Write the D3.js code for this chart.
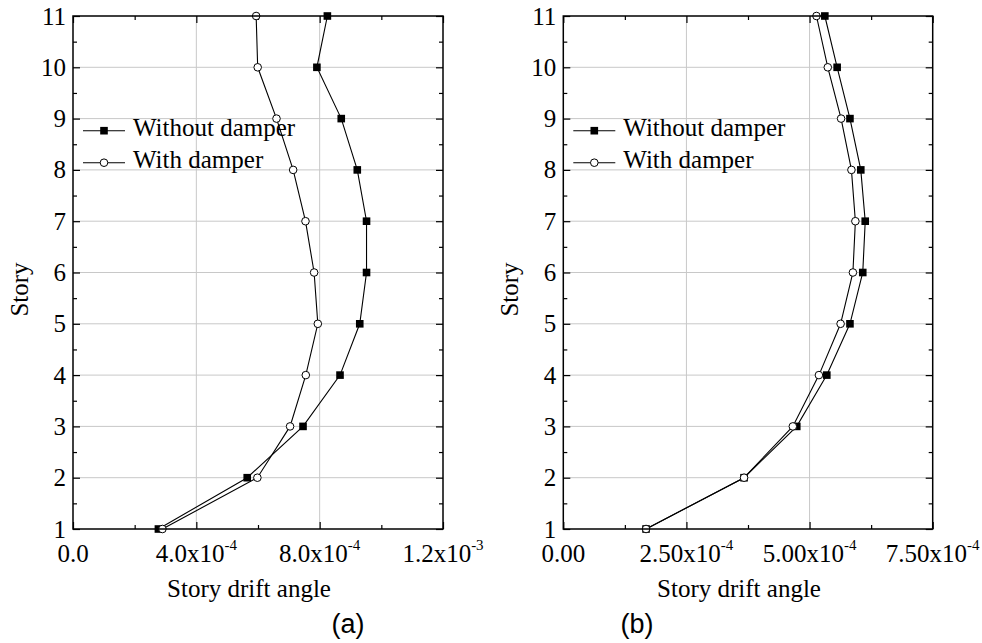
<!DOCTYPE html>
<html>
<head>
<meta charset="utf-8">
<script src="https://cdn.jsdelivr.net/npm/d3@7"></script>
<style>
  html, body { margin: 0; padding: 0; background: #fff; }
  svg { display: block; }
  text { font-family: "Liberation Serif", "Times New Roman", serif; fill: #000; }
  .panel-tag { font-family: "Liberation Sans", Arial, sans-serif; }
</style>
</head>
<body>
<svg id="chart" width="982" height="643"></svg>
<script>
// Story numbers (y axis)
const stories = [1, 2, 3, 4, 5, 6, 7, 8, 9, 10, 11];

// Panel (a): story drift angle
const driftAWithout = [2.77e-4, 5.65e-4, 7.46e-4, 8.66e-4, 9.30e-4, 9.52e-4, 9.52e-4, 9.22e-4, 8.70e-4, 7.91e-4, 8.25e-4];
const driftAWith    = [2.90e-4, 5.98e-4, 7.04e-4, 7.55e-4, 7.94e-4, 7.82e-4, 7.54e-4, 7.14e-4, 6.60e-4, 5.99e-4, 5.94e-4];

// Panel (b): story drift angle
const driftBWithout = [1.68e-4, 3.67e-4, 4.74e-4, 5.35e-4, 5.82e-4, 6.08e-4, 6.13e-4, 6.04e-4, 5.82e-4, 5.56e-4, 5.31e-4];
const driftBWith    = [1.68e-4, 3.67e-4, 4.66e-4, 5.19e-4, 5.63e-4, 5.88e-4, 5.93e-4, 5.85e-4, 5.64e-4, 5.37e-4, 5.14e-4];

// Axis ticks and their labels: [mantissa, exponent]
const xTicksA = [0, 4e-4, 8e-4, 1.2e-3];
const xTickLabelsA = [["0.0", ""], ["4.0x10", "-4"], ["8.0x10", "-4"], ["1.2x10", "-3"]];
const xTicksB = [0, 2.5e-4, 5e-4, 7.5e-4];
const xTickLabelsB = [["0.00", ""], ["2.50x10", "-4"], ["5.00x10", "-4"], ["7.50x10", "-4"]];
const yTicks = [1, 2, 3, 4, 5, 6, 7, 8, 9, 10, 11];

const seriesNames = ["Without damper", "With damper"];
const xTitle = "Story drift angle";
const yTitle = "Story";
const panelTags = ["(a)", "(b)"];

const FS = 25;
const svg = d3.select("#chart");

function drawPanel(opt) {
  const { left, right, top, bottom, xMax, xTicks, xLabels, without, withD, tag } = opt;
  const g = svg.append("g");
  const x = d3.scaleLinear().domain([0, xMax]).range([left, right]);
  const y = d3.scaleLinear().domain([1, 11]).range([bottom, top]);

  const step = xTicks[1] - xTicks[0];
  const xMinor = d3.range(0, xTicks.length - 1).map(i => xTicks[i] + step / 2);
  const yMinor = d3.range(1.5, 11, 1);

  // grid lines
  g.append("g").selectAll("line").data(xTicks.slice(1, -1)).join("line")
    .attr("x1", d => x(d)).attr("x2", d => x(d))
    .attr("y1", top).attr("y2", bottom)
    .attr("stroke", "#c8c8c8").attr("stroke-width", 1);
  g.append("g").selectAll("line").data(yTicks.slice(1, -1)).join("line")
    .attr("x1", left).attr("x2", right)
    .attr("y1", d => y(d)).attr("y2", d => y(d))
    .attr("stroke", "#c8c8c8").attr("stroke-width", 1);

  // axes with inward ticks on all four sides
  const major = 7, minor = 4;
  const axB = d3.axisBottom(x).tickValues(xTicks).tickSizeInner(-major).tickSizeOuter(0).tickFormat("");
  const axBm = d3.axisBottom(x).tickValues(xMinor).tickSizeInner(-minor).tickSizeOuter(0).tickFormat("");
  const axT = d3.axisTop(x).tickValues(xTicks).tickSizeInner(-major).tickSizeOuter(0).tickFormat("");
  const axTm = d3.axisTop(x).tickValues(xMinor).tickSizeInner(-minor).tickSizeOuter(0).tickFormat("");
  const axL = d3.axisLeft(y).tickValues(yTicks).tickSizeInner(-major).tickSizeOuter(0).tickFormat("");
  const axLm = d3.axisLeft(y).tickValues(yMinor).tickSizeInner(-minor).tickSizeOuter(0).tickFormat("");
  const axR = d3.axisRight(y).tickValues(yTicks).tickSizeInner(-major).tickSizeOuter(0).tickFormat("");
  const axRm = d3.axisRight(y).tickValues(yMinor).tickSizeInner(-minor).tickSizeOuter(0).tickFormat("");

  const axes = g.append("g").attr("class", "axes");
  [[axB, `translate(0,${bottom})`], [axBm, `translate(0,${bottom})`],
   [axT, `translate(0,${top})`], [axTm, `translate(0,${top})`],
   [axL, `translate(${left},0)`], [axLm, `translate(${left},0)`],
   [axR, `translate(${right},0)`], [axRm, `translate(${right},0)`]].forEach(([ax, tr]) => {
    const a = axes.append("g").attr("transform", tr).call(ax);
    a.select(".domain").remove();
    a.selectAll("line").attr("stroke", "#000").attr("stroke-width", 1.2);
  });

  // series lines
  const line = d3.line().x(d => x(d[0])).y(d => y(d[1]));
  const ptsWithout = without.map((v, i) => [v, stories[i]]);
  const ptsWith = withD.map((v, i) => [v, stories[i]]);

  g.append("path").datum(ptsWithout).attr("d", line)
    .attr("fill", "none").attr("stroke", "#000").attr("stroke-width", 1.1);
  g.selectAll(".sq").data(ptsWithout).join("rect").attr("class", "sq")
    .attr("x", d => x(d[0]) - 3.8).attr("y", d => y(d[1]) - 3.8)
    .attr("width", 7.6).attr("height", 7.6).attr("fill", "#000");

  g.append("path").datum(ptsWith).attr("d", line)
    .attr("fill", "none").attr("stroke", "#000").attr("stroke-width", 1.1);
  g.selectAll(".ci").data(ptsWith).join("circle").attr("class", "ci")
    .attr("cx", d => x(d[0])).attr("cy", d => y(d[1])).attr("r", 3.8)
    .attr("fill", "#fff").attr("stroke", "#000").attr("stroke-width", 1);

  // frame
  g.append("rect").attr("x", left).attr("y", top)
    .attr("width", right - left).attr("height", bottom - top)
    .attr("fill", "none").attr("stroke", "#000").attr("stroke-width", 1.5);

  // x tick labels with superscript exponent
  const xl = g.append("g").selectAll("text").data(xTicks).join("text")
    .attr("x", d => x(d)).attr("y", bottom + 33)
    .attr("text-anchor", "middle").attr("font-size", FS);
  xl.each(function (d, i) {
    const t = d3.select(this);
    t.append("tspan").text(xLabels[i][0]);
    if (xLabels[i][1]) {
      t.append("tspan").attr("dy", -12).attr("font-size", 15).text(xLabels[i][1]);
    }
  });

  // y tick labels
  g.append("g").selectAll("text").data(yTicks).join("text")
    .attr("x", left - 7).attr("y", d => y(d) + 8.5)
    .attr("text-anchor", "end").attr("font-size", FS)
    .text(d => d);

  // axis titles
  g.append("text").attr("x", (left + right) / 2 - 9).attr("y", bottom + 68)
    .attr("text-anchor", "middle").attr("font-size", FS).text(xTitle);
  g.append("text")
    .attr("transform", `translate(${left - 45},${(top + bottom) / 2 + 17}) rotate(-90)`)
    .attr("text-anchor", "middle").attr("font-size", FS).text(yTitle);

  // legend
  const lg = g.append("g");
  const rows = [{ y: 130.7, shape: "sq" }, { y: 162.7, shape: "ci" }];
  rows.forEach((r, i) => {
    lg.append("line").attr("x1", left + 10).attr("x2", left + 52)
      .attr("y1", r.y).attr("y2", r.y).attr("stroke", "#000").attr("stroke-width", 1.1);
    if (r.shape === "sq") {
      lg.append("rect").attr("x", left + 31 - 3.8).attr("y", r.y - 3.8)
        .attr("width", 7.6).attr("height", 7.6).attr("fill", "#000");
    } else {
      lg.append("circle").attr("cx", left + 31).attr("cy", r.y).attr("r", 3.8)
        .attr("fill", "#fff").attr("stroke", "#000");
    }
    lg.append("text").attr("x", left + 60).attr("y", r.y + 5.5)
      .attr("font-size", FS).text(seriesNames[i]);
  });

  // panel tag
  g.append("text").attr("class", "panel-tag")
    .attr("x", opt.tagX).attr("y", 633)
    .attr("text-anchor", "middle").attr("font-size", 27).text(tag);
}

drawPanel({
  left: 73, right: 443, top: 16, bottom: 529,
  xMax: 1.2e-3, xTicks: xTicksA, xLabels: xTickLabelsA,
  without: driftAWithout, withD: driftAWith, tag: panelTags[0], tagX: 348
});
drawPanel({
  left: 563.3, right: 932.7, top: 16, bottom: 529,
  xMax: 7.5e-4, xTicks: xTicksB, xLabels: xTickLabelsB,
  without: driftBWithout, withD: driftBWith, tag: panelTags[1], tagX: 637
});
</script>
</body>
</html>
